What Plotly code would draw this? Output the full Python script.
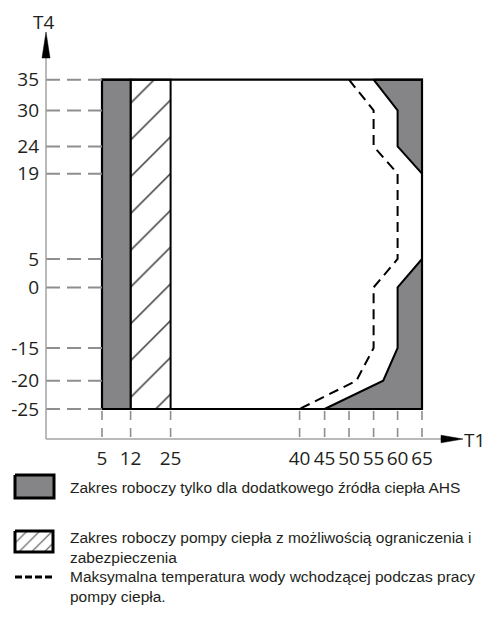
import numpy as np
import plotly.graph_objects as go

# ---- data -------------------------------------------------------------
# axis tick values (T1 horizontal, T4 vertical)
T1_TICKS = [5, 12, 25, 40, 45, 50, 55, 60, 65]
T4_TICKS = [-25, -20, -15, 0, 5, 19, 24, 30, 35]

# operating envelope
T1_MIN, T1_MAX = 5, 65
T4_MIN, T4_MAX = -25, 35
AHS_ONLY_T1 = [5, 12]          # band run by the additional heat source only
HP_LIMITED_T1 = [12, 25]       # heat pump with limitation / protection

AHS_TOP_T1 = [55, 60, 60, 65, 65]
AHS_TOP_T4 = [35, 30, 24, 19, 35]
AHS_BOTTOM_T1 = [65, 60, 60, 57, 45, 65]
AHS_BOTTOM_T4 = [5, 0, -15, -20, -25, -25]

# maximum outlet water temperature with heat pump running
MAX_LWT_T1 = [50, 55, 55, 60, 60, 55, 55, 51.5, 40]
MAX_LWT_T4 = [35, 30, 24, 19, 5, 0, -15, -20, -25]

LEGEND_TEXT = [
    "Zakres roboczy tylko dla dodatkowego źródła ciepła AHS",
    "Zakres roboczy pompy ciepła z możliwością ograniczenia i<br>zabezpieczenia",
    "Maksymalna temperatura wody wchodzącej podczas pracy<br>pompy ciepła.",
]

# ---- schematic (non-uniform) axis spacing, px from the axes ----------
T1_SPACING = [56.0, 84.6, 124.6, 253.6, 278.6, 303.0, 327.6, 351.6, 376.0]
T4_SPACING = [30.0, 58.3, 91.0, 151.6, 180.0, 265.3, 292.6, 328.6, 359.3]


def sx(v):
    return np.interp(v, T1_TICKS, T1_SPACING)


def sy(v):
    return np.interp(v, T4_TICKS, T4_SPACING)


W, H = 488, 619
GRAY = "#858587"
INK = "#231f20"
AXIS_GRAY = "#a3a3a3"
GUIDE_GRAY = "#8e8e8e"
TICK_FONT = dict(family="Open Sans, Lato, sans-serif", size=19, color=INK)
TEXT_FONT = dict(family="Liberation Sans, Arial, sans-serif", size=15.5, color=INK)

fig = go.Figure()


def rect(x0, x1, y0, y1):
    return [x0, x1, x1, x0, x0], [y0, y0, y1, y1, y0]


# hatched band
hx, hy = rect(*HP_LIMITED_T1, T4_MIN, T4_MAX)
fig.add_trace(go.Scatter(
    x=sx(hx), y=sy(hy), mode="lines", fill="toself", fillcolor="white",
    fillpattern=dict(shape="/", size=26, solidity=0.055, fgcolor="#333333", fgopacity=1,
                     bgcolor="white"),
    line=dict(color="black", width=2), hoverinfo="skip"))

# grey AHS-only regions
ax_, ay_ = rect(*AHS_ONLY_T1, T4_MIN, T4_MAX)
for xs, ys in [(ax_, ay_), (AHS_TOP_T1 + AHS_TOP_T1[:1], AHS_TOP_T4 + AHS_TOP_T4[:1]),
               (AHS_BOTTOM_T1 + AHS_BOTTOM_T1[:1], AHS_BOTTOM_T4 + AHS_BOTTOM_T4[:1])]:
    fig.add_trace(go.Scatter(
        x=sx(xs), y=sy(ys), mode="lines", fill="toself", fillcolor=GRAY,
        line=dict(color="black", width=2), hoverinfo="skip"))

# envelope frame
fx, fy = rect(T1_MIN, T1_MAX, T4_MIN, T4_MAX)
fig.add_trace(go.Scatter(x=sx(fx), y=sy(fy), mode="lines",
                         line=dict(color="black", width=2.2), hoverinfo="skip"))

# max leaving water temperature
fig.add_trace(go.Scatter(x=sx(MAX_LWT_T1), y=sy(MAX_LWT_T4), mode="lines",
                         line=dict(color="black", width=2, dash="10px,6px"), hoverinfo="skip"))

# dashed guides from the axes to the envelope
gx, gy = [], []
for t in T4_TICKS:
    gx += [0, float(sx(T1_MIN)), None]
    gy += [float(sy(t)), float(sy(t)), None]
fig.add_trace(go.Scatter(x=gx, y=gy, mode="lines",
                         line=dict(color=GUIDE_GRAY, width=2, dash="14px,7px"), hoverinfo="skip"))
vx, vy = [], []
for t in T1_TICKS:
    vx += [float(sx(t)), float(sx(t)), None]
    vy += [float(sy(T4_MIN)) - 2, 0, None]
fig.add_trace(go.Scatter(x=vx, y=vy, mode="lines",
                         line=dict(color=GUIDE_GRAY, width=1.6, dash="9px,8px"), hoverinfo="skip"))

# ---- legend (custom, drawn in its own frame below the chart) ----------
lg = dict(xaxis="x2", yaxis="y2", mode="lines", hoverinfo="skip")
bx, by = rect(15, 54, 475, 498)
fig.add_trace(go.Scatter(x=bx, y=by, fill="toself", fillcolor=GRAY,
                         line=dict(color="black", width=3), **lg))
bx, by = rect(15, 53, 531, 552)
fig.add_trace(go.Scatter(x=bx, y=by, fill="toself", fillcolor="white",
                         fillpattern=dict(shape="/", size=9, solidity=0.11, fgcolor="#444444",
                                          fgopacity=1, bgcolor="white"),
                         line=dict(color="black", width=3), **lg))
fig.add_trace(go.Scatter(x=[15, 53], y=[577, 577],
                         line=dict(color="black", width=3, dash="7px,3px"), **lg))

ann = [
    dict(text=LEGEND_TEXT[0], x=68 / W, y=1 - 487 / H, yanchor="middle"),
    dict(text=LEGEND_TEXT[1], x=68 / W, y=1 - 527 / H, yanchor="top"),
    dict(text=LEGEND_TEXT[2], x=68 / W, y=1 - 566 / H, yanchor="top"),
]
for a in ann:
    fig.add_annotation(xref="paper", yref="paper", xanchor="left", align="left",
                       showarrow=False, font=TEXT_FONT, **a)

# axis titles
fig.add_annotation(text="T4", xref="paper", yref="paper", x=43 / W, y=1 - 22 / H,
                   showarrow=False, font=TICK_FONT, xanchor="center", yanchor="middle")
fig.add_annotation(text="T1", xref="paper", yref="paper", x=474 / W, y=1 - 440 / H,
                   showarrow=False, font=TICK_FONT, xanchor="center", yanchor="middle")

# axis lines with arrow heads
shapes = [
    dict(type="line", x0=0, x1=0, y0=0, y1=381, line=dict(color=AXIS_GRAY, width=1.5)),
    dict(type="line", x0=0, x1=396, y0=0, y1=0, line=dict(color=AXIS_GRAY, width=1.5)),
    dict(type="path", path="M -4 381 L 4 381 L 0 407 Z", fillcolor="black",
         line=dict(color="black", width=0.5)),
    dict(type="path", path="M 395 -3.8 L 395 3.8 L 417 0 Z", fillcolor="black",
         line=dict(color="black", width=0.5)),
]
for s in shapes:
    s.update(xref="x", yref="y", layer="above")
fig.update_layout(shapes=shapes)

fig.update_layout(
    width=W, height=H, margin=dict(l=0, r=0, t=0, b=0),
    paper_bgcolor="white", plot_bgcolor="white", showlegend=False,
    xaxis=dict(domain=[40 / W, 1], range=[-6, 442], showgrid=False, zeroline=False,
               showline=False, tickmode="array", tickvals=T1_SPACING,
               ticktext=[str(v) for v in T1_TICKS], ticks="", tickfont=TICK_FONT,
               automargin=False, fixedrange=True),
    yaxis=dict(domain=[1 - 445 / H, 1 - 10 / H], range=[-6, 429], showgrid=False,
               zeroline=False, showline=False, tickmode="array", tickvals=T4_SPACING,
               ticktext=[str(v) for v in T4_TICKS], ticks="", tickfont=TICK_FONT,
               automargin=False, fixedrange=True),
    xaxis2=dict(domain=[0, 1], range=[0, W], visible=False, anchor="y2", fixedrange=True),
    yaxis2=dict(domain=[0, 150 / H], range=[H, H - 150], visible=False, anchor="x2",
                fixedrange=True),
)

fig.write_html("out.html")
